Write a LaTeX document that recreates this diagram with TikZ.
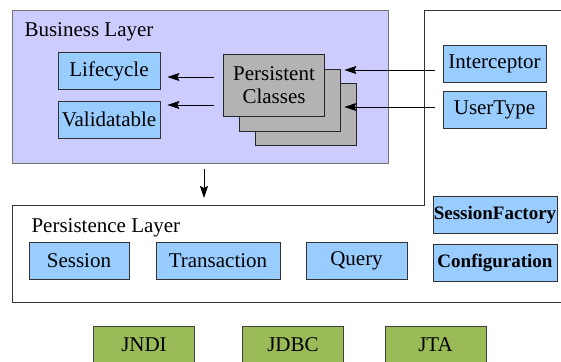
\documentclass[tikz,border=0pt]{standalone}
\usepackage{fontspec}
\setmainfont{Liberation Serif}
\usetikzlibrary{arrows.meta}
\definecolor{layerfill}{HTML}{CCCCFF}
\definecolor{compfill}{HTML}{99CCFF}
\definecolor{classfill}{HTML}{B3B3B3}
\definecolor{libfill}{HTML}{9BBB59}

\begin{document}
\begin{tikzpicture}[x=1pt,y=-1pt,
		comp/.style={draw=black!80,line width=0.8pt,fill=compfill,inner sep=0pt,minimum height=37pt,font=\fontsize{21}{24}\selectfont},
		cfg/.style={comp,font=\fontsize{19}{22}\selectfont\bfseries},
		pclass/.style={draw=black!85,line width=0.8pt,fill=classfill,inner sep=0pt,minimum width=101pt,minimum height=62pt},
		lib/.style={draw=black!75,line width=0.8pt,fill=libfill,inner sep=0pt,minimum width=101pt,minimum height=37pt,font=\fontsize{21}{24}\selectfont},
		arr/.style={-{Stealth[length=12pt,width=8pt,inset=2pt]},line width=0.8pt}]
	\clip (0,0) rectangle (561,361);
	% business layer
	\node[draw=black!55,line width=0.8pt,fill=layerfill,inner sep=0pt,minimum width=376pt,minimum height=153pt] (bl) at (200,86.5) {};
	\node[anchor=base west,font=\fontsize{21}{24}\selectfont] (bllabel) at (21,37) {Business Layer};
	\node[comp,minimum width=102pt] (life) at (109,71) {Lifecycle};
	\node[comp,minimum width=102pt] (valid) at (109,119.5) {Validatable};
	\node[pclass] (pc3) at (305.5,114) {};
	\node[pclass] (pc2) at (289.5,100) {};
	\node[pclass,align=center,font=\fontsize{21}{23}\selectfont] (pc1) at (274,85) {Persistent\\Classes};
	\draw[arr,shorten <=9pt,shorten >=7pt] (pc1.west |- 0,77) -- (life.east |- 0,77);
	\draw[arr,shorten <=9pt,shorten >=7pt] (pc1.west |- 0,105) -- (valid.east |- 0,105);

	% extensions on the right
	\node[comp,minimum width=103pt] (icp) at (494.5,63.5) {Interceptor};
	\node[comp,minimum width=103pt] (utype) at (494.5,109.5) {UserType};
	\draw[arr,shorten <=8pt,shorten >=-12pt] (icp.west |- 0,70) -- (pc3.east |- 0,70);
	\draw[arr,shorten <=8pt,shorten >=-12pt] (utype.west |- 0,107) -- (pc3.east |- 0,107);

	% persistence layer
	\coordinate (pltop) at (204,205);
	\draw[black!80,line width=0.8pt] (561,10) -- (424,10) -- (424,205) -- (12,205) -- (12,302) -- (561,302);
	\draw[arr,shorten <=6pt,shorten >=7pt] (bl.south -| pltop) -- (pltop);
	\node[anchor=base west,font=\fontsize{21}{24}\selectfont] (pllabel) at (28,232) {Persistence Layer};
	\node[comp,minimum width=100pt] (sess) at (79,260.5) {Session};
	\node[comp,minimum width=124pt] (trans) at (218,260.5) {Transaction};
	\node[comp,minimum width=101pt] (query) at (356.5,260.5) {Query};
	\node[cfg,minimum width=124pt] (sfac) at (495,214.5) {SessionFactory};
	\node[cfg,minimum width=124pt] (conf) at (495,262.5) {Configuration};

	% libraries below
	\node[lib] (jndi) at (144,344.5) {JNDI};
	\node[lib] (jdbc) at (293,344.5) {JDBC};
	\node[lib] (jta) at (435.5,344.5) {JTA};
\end{tikzpicture}
\end{document}
